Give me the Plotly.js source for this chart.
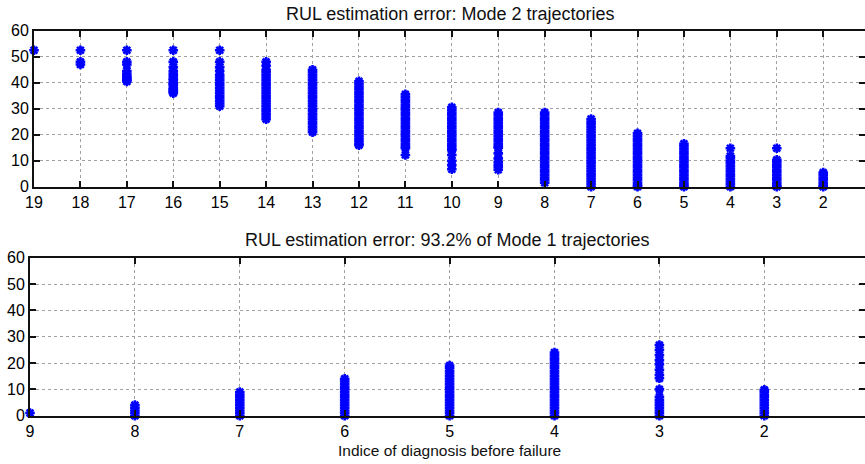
<!DOCTYPE html>
<html>
<head>
<meta charset="utf-8">
<script src="https://cdn.plot.ly/plotly-3.0.1.min.js"></script>
<style>html,body{margin:0;padding:0;background:#fff;}#chart{width:865px;height:464px;}</style>
</head>
<body>
<div id="chart"></div>
<script>
// ---- Titles / labels ----
const titleTop = "RUL estimation error: Mode 2 trajectories";
const titleBottom = "RUL estimation error: 93.2% of Mode 1 trajectories";
const xLabel = "Indice of diagnosis before failure";
const yTicks = [0, 10, 20, 30, 40, 50, 60];
const topTicks = [19, 18, 17, 16, 15, 14, 13, 12, 11, 10, 9, 8, 7, 6, 5, 4, 3, 2];
const bottomTicks = [9, 8, 7, 6, 5, 4, 3, 2];

// ---- Mode 2 trajectories: errors observed at each diagnosis index ----
const m2_19 = [52.5];
const m2_18 = [52.5, 48, 47];
const m2_17 = [52.5, 48, 47, 44.5, 43.5, 42.5, 42, 41.5, 41, 40.5];
const m2_16 = [52.5, 48, 46, 44.5, 43.5, 42.5, 41.5, 41, 40, 39.5, 39, 38, 37.5, 37, 36.5, 36];
const m2_15 = [52.5, 48, 46, 44.5, 43, 42, 41, 40, 39, 38, 37, 36, 35, 34, 33, 32, 31];
const m2_14 = [48, 46.5, 45, 44, 43, 42, 41, 40, 39, 38, 37, 36, 35, 34, 33, 32, 31, 30, 29, 28, 27, 26];
const m2_13 = [45, 44, 43, 42, 41, 40, 39, 38, 37, 36, 35, 34, 33, 32, 31, 30, 29, 28, 27, 26, 25, 24, 23, 22, 21];
const m2_12 = [40.5, 39.5, 38.5, 37.5, 36.5, 35.5, 34.5, 33.5, 32.5, 31.5, 30.5, 29.5, 28.5, 27.5, 26.5, 25.5, 24.5, 23.5, 22.5, 21.5, 20.5, 19.5, 18.5, 17.5, 16.5, 16];
const m2_11 = [35.5, 34.5, 33.5, 32.5, 31.5, 30.5, 29.5, 28.5, 27.5, 26.5, 25.5, 24.5, 23.5, 22.5, 21.5, 20.5, 19.5, 18.5, 17.5, 16.5, 15.5, 14.8, 12.2];
const m2_10 = [30.5, 29.5, 28.5, 27.5, 26.5, 25.5, 24.5, 23.5, 22.5, 21.5, 20.5, 19.5, 18.5, 17.5, 16.5, 15.5, 14.5, 14, 12.2, 10, 8.3, 6.7];
const m2_9 = [28.5, 27.5, 26.5, 25.5, 24.5, 23.5, 22.5, 21.5, 20.5, 19.5, 18.5, 17.5, 16.5, 15.5, 15, 12.8, 10.9, 9.5, 8.5, 7.5, 6.5];
const m2_8 = [28.5, 27.5, 26.5, 25.5, 24.5, 23.5, 22.5, 21.5, 20.5, 19.5, 18.5, 17.5, 16.5, 15.5, 14.5, 13.5, 12.5, 11.5, 10.5, 9.5, 8.5, 7.5, 6.5, 5.5, 4.5, 3.5, 2.5, 1.5];
const m2_7 = [26, 25, 24, 23, 22, 21, 20, 19, 18, 17, 16, 15, 14, 13, 12, 11, 10, 9, 8, 7, 6, 5, 4, 3, 2, 1, 0];
const m2_6 = [20.5, 19.5, 18.5, 17.5, 16.5, 15.5, 14.5, 13.5, 12.5, 11.5, 10.5, 9.5, 8.5, 7.5, 6.5, 5.5, 4.5, 3.5, 2.5, 1.5, 0.5, 0];
const m2_5 = [16.5, 15.5, 14.5, 13.5, 12.5, 11.5, 10.5, 9.5, 8.5, 7.5, 6.5, 5.5, 4.5, 3.5, 2.5, 1.5, 0.5, 0];
const m2_4 = [14.8, 11.8, 11, 10, 9, 8, 7, 6, 5, 4, 3, 2, 1, 0];
const m2_3 = [14.8, 10.3, 9.5, 8.5, 7.5, 6.5, 5.5, 4.5, 3.5, 2.5, 1.5, 0.5, 0];
const m2_2 = [5.4, 4.5, 3.5, 2.5, 1.5, 0.5, 0];

// ---- Mode 1 trajectories (93.2%) ----
const m1_9 = [1];
const m1_8 = [4, 3, 2, 1, 0];
const m1_7 = [9, 8, 7, 6, 5, 4, 3, 2, 1, 0];
const m1_6 = [14, 13, 12, 11, 10, 9, 8, 7, 6, 5, 4, 3, 2, 1, 0];
const m1_5 = [19, 18, 17, 16, 15, 14, 13, 12, 11, 10, 9, 8, 7, 6, 5, 4, 3, 2, 1, 0];
const m1_4 = [24, 23, 22, 21, 20, 19, 18, 17, 16, 15, 14, 13, 12, 11, 10, 9, 8, 7, 6, 5, 4, 3, 2, 1, 0];
const m1_3 = [26.8, 25, 23, 21.1, 19.5, 17.4, 15.5, 14.2, 10, 7.2, 6, 5, 4, 3, 2, 1, 0];
const m1_2 = [9.8, 9, 8, 7, 6, 5, 4, 3, 2, 1, 0];

const mode2Groups = [[19, m2_19], [18, m2_18], [17, m2_17], [16, m2_16], [15, m2_15], [14, m2_14], [13, m2_13], [12, m2_12], [11, m2_11], [10, m2_10], [9, m2_9], [8, m2_8], [7, m2_7], [6, m2_6], [5, m2_5], [4, m2_4], [3, m2_3], [2, m2_2]];
const mode1Groups = [[9, m1_9], [8, m1_8], [7, m1_7], [6, m1_6], [5, m1_5], [4, m1_4], [3, m1_3], [2, m1_2]];

function flatten(groups) {
  const xs = [], ys = [];
  groups.forEach(([idx, vals]) => vals.forEach(v => { xs.push(idx); ys.push(v); }));
  return {xs, ys};
}
const ptsMode2 = flatten(mode2Groups);
const ptsMode1 = flatten(mode1Groups);

const marker = {symbol: 'asterisk-open', size: 8, color: '#0000ff', line: {color: '#0000ff', width: 2.6}};

const traces = [
  {x: ptsMode2.xs, y: ptsMode2.ys, xaxis: 'x', yaxis: 'y', type: 'scatter', mode: 'markers', marker: marker, cliponaxis: false, hoverinfo: 'x+y'},
  {x: ptsMode1.xs, y: ptsMode1.ys, xaxis: 'x2', yaxis: 'y2', type: 'scatter', mode: 'markers', marker: marker, cliponaxis: false, hoverinfo: 'x+y'}
];

const W = 865, H = 464;
const fam = 'Liberation Sans, Arial, sans-serif';
const tickFont = {family: fam, size: 16, color: '#000'};
function xax(domain, range, ticks) {
  return {domain: domain, range: range, tickvals: ticks, ticktext: ticks.map(String), ticks: 'inside', ticklen: 6, tickwidth: 2, tickcolor: '#111',
    showline: true, linecolor: '#111', linewidth: 2, mirror: 'ticks', showgrid: true, gridcolor: '#a0a0a0', griddash: 'dot', gridwidth: 1,
    zeroline: false, tickfont: tickFont, ticklabelstandoff: 0, fixedrange: true};
}
function yax(domain, anchor) {
  return {domain: domain, range: [0, 60], tickvals: yTicks, ticks: 'inside', ticklen: 6, tickwidth: 2, tickcolor: '#111', anchor: anchor,
    showline: true, linecolor: '#111', linewidth: 2, mirror: 'ticks', showgrid: true, gridcolor: '#a0a0a0', griddash: 'dot', gridwidth: 1,
    zeroline: false, tickfont: tickFont, ticklabelstandoff: 0, fixedrange: true};
}

const layout = {
  width: W, height: H, margin: {l: 0, r: 0, t: 0, b: 0}, showlegend: false,
  paper_bgcolor: '#fff', plot_bgcolor: '#fff',
  xaxis: Object.assign(xax([34 / W, 1], [19, 1.1], topTicks), {anchor: 'y'}),
  yaxis: yax([1 - 186.7 / H, 1 - 30.7 / H], 'x'),
  xaxis2: Object.assign(xax([30 / W, 1], [9, 1.04], bottomTicks), {anchor: 'y2'}),
  yaxis2: yax([1 - 415.7 / H, 1 - 257.7 / H], 'x2'),
  annotations: [
    {text: titleTop, xref: 'paper', yref: 'paper', x: 450 / W, y: 1 - 14 / H, xanchor: 'center', yanchor: 'middle', showarrow: false,
     font: {family: fam, size: 18, color: '#111'}},
    {text: titleBottom, xref: 'paper', yref: 'paper', x: 447 / W, y: 1 - 240 / H, xanchor: 'center', yanchor: 'middle', showarrow: false,
     font: {family: fam, size: 18, color: '#111'}},
    {text: xLabel, xref: 'paper', yref: 'paper', x: 450 / W, y: 1 - 450 / H, xanchor: 'center', yanchor: 'middle', showarrow: false,
     font: {family: fam, size: 15.5, color: '#111'}}
  ]
};

Plotly.newPlot('chart', traces, layout, {displayModeBar: false, staticPlot: true});
</script>
</body>
</html>
